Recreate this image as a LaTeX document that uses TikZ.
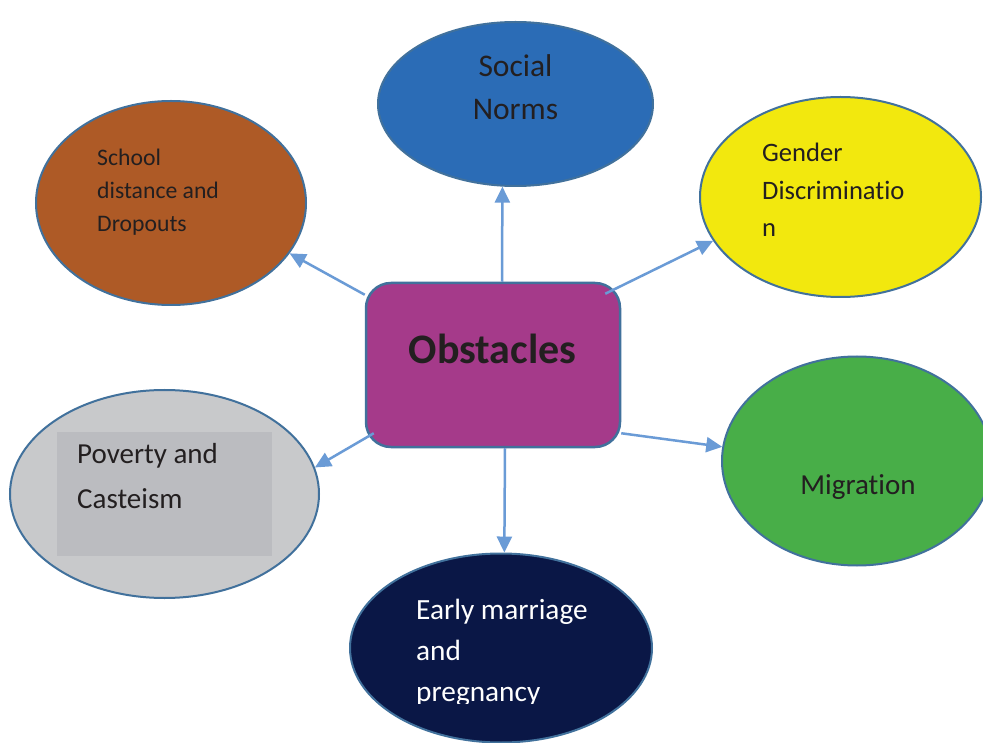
\documentclass[tikz,border=0pt]{standalone}
\usepackage{fontspec}
\setmainfont{Carlito}[Ligatures=NoCommon]
\usetikzlibrary{arrows.meta,shapes.geometric}

\definecolor{edgeblue}{HTML}{41719C}
\definecolor{arrowblue}{HTML}{6A9BD6}
\definecolor{inkdark}{HTML}{231F20}
\definecolor{socialblue}{HTML}{2B6CB6}
\definecolor{schoolbrown}{HTML}{AE5A26}
\definecolor{genderyellow}{HTML}{F2E80E}
\definecolor{obstaclepurple}{HTML}{A53A8A}
\definecolor{povertygrey}{HTML}{C8C9CB}
\definecolor{povertybox}{HTML}{BBBCC0}
\definecolor{migrationgreen}{HTML}{48AE48}
\definecolor{earlynavy}{HTML}{0A1746}

\begin{document}
\begin{tikzpicture}[x=1pt,y=-1pt,
  blob/.style={ellipse, draw=edgeblue, line width=2pt, inner sep=0pt},
  hub/.style={rectangle, rounded corners=25pt, draw=edgeblue, line width=2.5pt,
              fill=obstaclepurple, inner sep=0pt, minimum width=254pt, minimum height=164pt},
  lbl/.style={inner sep=0pt, text=inkdark, align=left, anchor=base west},
  link/.style={draw=arrowblue, line width=2.5pt,
               -{Triangle[length=16pt,width=15pt]}}]

\clip (0,0) rectangle (983,743);
\fill[white] (0,0) rectangle (983,743);

% surrounding obstacles
\node[blob, fill=socialblue, minimum width=275pt, minimum height=164pt] (social) at (515.5,104) {};
\node[blob, fill=schoolbrown, minimum width=270pt, minimum height=204pt] (school) at (171,203) {};
\node[blob, fill=genderyellow, minimum width=281pt, minimum height=200pt] (gender) at (840.5,197) {};
\node[blob, fill=povertygrey, minimum width=309pt, minimum height=208pt] (poverty) at (164.5,494) {};
\node[blob, fill=migrationgreen, minimum width=270pt, minimum height=209pt] (migration) at (857,461) {};
\node[blob, fill=earlynavy, minimum width=302pt, minimum height=189pt] (early) at (501,648) {};

% shaded box inside the poverty ellipse
\node[fill=povertybox, inner sep=0pt, minimum width=215pt, minimum height=124pt] (povbox) at (164.5,494) {};

% central node
\node[hub] (obs) at (493,365) {};
\node[inner sep=0pt, text=inkdark, anchor=base, font=\fontsize{42}{50}\selectfont\bfseries] (obstxt) at (492.5,364) {Obstacles};

% labels (anchored at the baseline of their last line)
\node[lbl, align=center, anchor=base, font=\fontsize{31.5}{43}\selectfont] (socialtxt) at (515.5,120) {Social\\Norms};
\node[lbl, font=\fontsize{23.7}{33}\selectfont] (schooltxt) at (97,232) {School\\distance and\\Dropouts};
\node[lbl, font=\fontsize{26.6}{37.5}\selectfont] (gendertxt) at (762,237) {Gender\\Discriminatio\\n};
\node[lbl, font=\fontsize{29}{45}\selectfont] (povertytxt) at (77,508) {Poverty and\\Casteism};
\node[lbl, anchor=base, font=\fontsize{29}{35}\selectfont] (migrationtxt) at (858,494) {Migration};
\begin{scope}
  \clip (350,553) rectangle (660,703);
  \node[lbl, text=white, font=\fontsize{29.3}{41}\selectfont] (earlytxt) at (416,701) {Early marriage\\and\\pregnancy};
\end{scope}

% connector start points on the central node
\coordinate (sUp)   at ([xshift=9pt]obs.north);
\coordinate (sNE)   at ([shift={(-16pt,-12pt)}]obs.north east);
\coordinate (sNW)   at ([yshift=-13pt]obs.north west);
\coordinate (sSW)   at ([shift={(9pt,15pt)}]obs.south west);
\coordinate (sSE)   at ([yshift=15pt]obs.south east);
\coordinate (sDown) at ([xshift=12pt]obs.south);

% connectors
\draw[link] (sUp)   -- (social.261);
\draw[link] (sNE)   -- (gender.199);
\draw[link] (sNW)   -- (school.337);
\draw[link] (sSW)   -- (poverty.10);
\draw[link] (sSE)   -- (migration.174);
\draw[link] (sDown) -- (early.88);
\end{tikzpicture}
\end{document}
